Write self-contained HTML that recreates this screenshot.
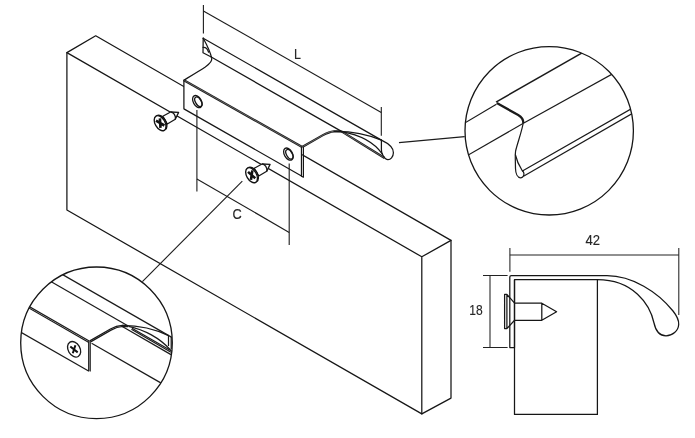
<!DOCTYPE html>
<html><head><meta charset="utf-8"><title>Handle drawing</title>
<style>
html,body{margin:0;padding:0;background:#fff;}
svg{display:block}
.tx{filter:grayscale(1)}
.o *{fill:none;stroke:#161616;stroke-width:1.25;stroke-linejoin:round;stroke-linecap:round}
.o .nf, .o .nf *{fill:#fff}
.n *{fill:none}
.t *{fill:none;stroke:#161616;stroke-width:2.2;stroke-linejoin:round;stroke-linecap:butt}
.tg *{fill:none;stroke:#fff;stroke-width:0.45;stroke-opacity:0.75}
.c, .c *{fill:none;stroke:#1a1a1a;stroke-width:1.22;stroke-linejoin:round}
.c .b{stroke-width:1.5}
.c .b2{stroke-width:2.3}
.o .cc{stroke-width:1.3}
.h *{fill:none;stroke:#161616;stroke-width:1.3}
.h ellipse:first-child{fill:#fff}
.sb{fill:#fff;stroke:#161616;stroke-width:1.3;stroke-linejoin:round}
.sh{fill:#fff;stroke:#111;stroke-width:1.35}
.sx{fill:none;stroke:#111;stroke-width:2.6}
.sx2{fill:none;stroke:#111;stroke-width:2.0}
.d *{stroke:#1c1c1c;stroke-width:1.1;fill:none}
.d2 *{stroke:#222;stroke-width:1.05;fill:none}
.tx{font-family:"Liberation Sans",sans-serif;font-size:15px;fill:#262626;stroke:#262626;stroke-width:0.15}
</style></head><body>
<svg width="695" height="438" viewBox="0 0 695 438">
<rect width="695" height="438" fill="#fff"/>
<g class="o">
<path d="M66.90,210.00 L66.90,52.60 L95.70,35.80 L451.00,240.40 L451.00,398.10 L421.80,413.90 Z"/>
<path d="M66.90,52.60 L421.80,256.80 L421.80,413.90 M421.80,256.80 L451.00,240.40"/>
</g>
<g class="o">
<path d="M183.90,80.20 C192,75.3 200,70.5 205.3,67 C209,64.4 212.3,61.5 211.7,58 L211.25,57.00 L203,52.8 L203.20,38.20 L381.40,140.10 C388,143.2 393.5,148 393.4,152.7 C393.3,157 390.5,159.8 387.7,159.6 C386.3,159.5 385.2,158.8 384.60,158.00 L341.50,131.40 C337,131 332,131.2 328.5,132.6 C326,133.6 324.5,134.3 322.5,135.4 L302.20,147.00 Z" class="nf" style="stroke:none"/>
<path class="nf" style="stroke:none" d="M183.90,80.20 L302.20,147.00 L302.20,176.40 L183.90,108.85 Z"/>
<path d="M183.90,80.20 L183.90,108.85 L301.5,176.0"/>
</g>
<g class="t">
<line x1="183.90" y1="80.20" x2="302.20" y2="147.00"/>
<path d="M302.20,147.00 L322.5,135.4 C326,133.4 329.5,131.6 334,131.3 L341.50,131.40"/>
<path d="M341.50,131.40 L384.60,158.00"/>
</g>
<g class="tg">
<line x1="183.90" y1="80.20" x2="302.20" y2="147.00"/>
<path d="M302.20,147.00 L322.5,135.4 C326,133.4 329.5,131.6 334,131.3 L341.50,131.40"/>
<path d="M341.50,131.40 L384.60,158.00"/>
</g>
<g class="o n">
<path d="M183.90,80.20 C192,75.3 200,70.5 205.3,67 C209,64.4 212.6,61.8 211.7,58.2 C210.6,53 207,45 203.20,38.20"/>
<path d="M203.20,38.20 L203,52.8 L211.25,57.00"/>
<path d="M203.1,47.3 C205.5,47 207.6,49 208.6,52.2"/>
<path style="stroke-width:1.2" d="M301.45,146.8 L301.45,176.2 L303.4,177.2 L303.4,147"/>
<line x1="203.20" y1="38.20" x2="381.40" y2="140.10"/>
<line x1="211.25" y1="57.00" x2="341.50" y2="131.40"/>
<path d="M381.40,140.10 C388,143.2 393.5,148 393.4,152.7 C393.3,157 390.5,159.8 387.7,159.6 C385.5,159.4 383.5,156.8 382.3,154 C381.6,152.3 381.4,151 381.4,149.5 L381.40,140.10"/>
<path d="M334,131.3 C350,131 368,134.5 381.40,140.10"/>
<path d="M341.5,131.6 C358,134.5 374,142 382.3,154"/>
</g>
<g class="h">
<ellipse cx="197.35" cy="101.6" rx="6.6" ry="4.0" transform="rotate(60 197.35 101.6)"/><ellipse cx="198.35" cy="101.8" rx="5.25" ry="2.8" transform="rotate(60 198.35 101.8)"/>
<ellipse cx="288.4" cy="154.1" rx="6.6" ry="4.0" transform="rotate(60 288.4 154.1)"/><ellipse cx="289.4" cy="154.29999999999998" rx="5.25" ry="2.8" transform="rotate(60 289.4 154.29999999999998)"/>
</g>
<g transform="translate(160.2 123.1)"><path class="sb" d="M2.6,-6.8 L10.4,-11.1 L18.4,-10.7 L15.1,-3.8 L7.1,0.9 Z"/><path class="sb" d="M10.4,-11.1 C13.5,-10.8 15.8,-7.5 15.1,-3.8"/><ellipse class="sh" cx="0.8" cy="-0.45" rx="8.2" ry="4.9" transform="rotate(60 0.8 -0.45)"/><ellipse class="sh" cx="-0.1" cy="0.1" rx="8.2" ry="4.9" transform="rotate(60 -0.1 0.1)"/><g transform="rotate(0)"><path class="sx" d="M-4.2,-2.4 L4.2,2.4 M-0.3,-4.8 L0.3,4.8"/></g></g>
<g transform="translate(251.65 175.1)"><path class="sb" d="M2.6,-6.8 L10.4,-11.1 L18.4,-10.7 L15.1,-3.8 L7.1,0.9 Z"/><path class="sb" d="M10.4,-11.1 C13.5,-10.8 15.8,-7.5 15.1,-3.8"/><ellipse class="sh" cx="0.8" cy="-0.45" rx="8.2" ry="4.9" transform="rotate(60 0.8 -0.45)"/><ellipse class="sh" cx="-0.1" cy="0.1" rx="8.2" ry="4.9" transform="rotate(60 -0.1 0.1)"/><g transform="rotate(12)"><path class="sx" d="M-4.2,-2.4 L4.2,2.4 M-0.3,-4.8 L0.3,4.8"/></g></g>
<g class="d">
<line x1="203.40" y1="5.00" x2="203.40" y2="33.50"/>
<line x1="381.30" y1="107.00" x2="381.30" y2="135.70"/>
<line x1="203.40" y1="10.90" x2="381.30" y2="112.40"/>
<line x1="196.90" y1="110.00" x2="196.90" y2="191.40"/>
<line x1="289.20" y1="163.50" x2="289.20" y2="244.90"/>
<line x1="196.90" y1="178.90" x2="289.20" y2="232.40"/>
<line x1="399.00" y1="142.60" x2="464.70" y2="136.60"/>
<line x1="242.30" y1="181.20" x2="142.40" y2="281.60"/>
</g>
<text transform="translate(293.9 59.0) scale(0.83 1)" class="tx" style="font-size:15px">L</text>
<text transform="translate(232.5 218.9) scale(0.85 1)" class="tx" style="font-size:15px">C</text>
<g class="o">
<circle cx="549.2" cy="130.8" r="84.2" class="cc"/>
</g>
<clipPath id="c1"><circle cx="549.2" cy="130.8" r="84.2"/></clipPath>
<g class="c" clip-path="url(#c1)">
<line x1="455.00" y1="128.80" x2="496.40" y2="104.20"/>
<line x1="496.00" y1="102.10" x2="590.00" y2="48.30" class="b"/>
<line x1="455.00" y1="162.60" x2="523.40" y2="123.30"/>
<line x1="523.40" y1="123.30" x2="640.00" y2="58.70"/>
<path class="b2" d="M496.8,103.1 L518.2,115 C521.4,116.8 523.3,119 523.4,123"/>
<path d="M523.4,122 C522.3,130 517.5,143 515.6,151 C515.2,153.5 515.3,156 515.3,159 L515.5,168.5 C515.6,173.5 517.5,177.6 520.6,177.8 C522.8,177.9 524.3,175.6 523.9,173.4 C523.7,172.3 523.2,171.5 522.4,170.8"/>
<path d="M515.3,154.5 C516.5,160 519.5,166.5 522.4,171 L642,102.6"/>
<path d="M523.5,176.3 L642,107.9"/>
</g>
<g class="o"><circle cx="96.5" cy="342.8" r="75.8" class="cc"/></g>
<clipPath id="c2"><circle cx="96.5" cy="342.8" r="75.8"/></clipPath>
<g class="c" clip-path="url(#c2)">
<line x1="9.60" y1="295.27" x2="89.60" y2="341.30"/>
<line x1="8.90" y1="296.47" x2="88.90" y2="342.50"/>
<line x1="9.00" y1="325.38" x2="89.00" y2="371.20"/>
<line x1="88.70" y1="341.30" x2="88.70" y2="371.00"/>
<line x1="90.20" y1="341.30" x2="90.20" y2="371.40"/>
<line x1="91.60" y1="343.30" x2="166.00" y2="385.90"/>
<path d="M89.8,340.9 L110.4,329 C114,327 118,325.6 122.4,325.4 L128.2,325.6"/>
<path d="M90.6,341.9 L111,330.1 C114.5,328.1 118.3,326.6 122.6,326.5 L128.2,326.6"/>
<line x1="49.20" y1="266.85" x2="169.20" y2="335.90"/>
<line x1="28.20" y1="268.46" x2="128.20" y2="326.00"/>
<line x1="132.00" y1="328.20" x2="172.00" y2="351.20"/>
<line x1="131.40" y1="329.30" x2="171.00" y2="352.20"/>
<line x1="121.00" y1="325.80" x2="171.00" y2="354.60"/>
<path d="M122.4,325.4 C138,325.4 156,329.5 169.2,335.9"/>
<path d="M128.5,326.3 C144,329.5 160,338 170.5,350"/>
<line x1="168.50" y1="335.70" x2="168.50" y2="346.00"/>
<line x1="171.20" y1="337.00" x2="171.20" y2="349.00"/>
<line x1="169.20" y1="335.90" x2="175.00" y2="339.20"/>
</g>
<g transform="translate(74.1 349.3)"><ellipse class="c" cx="0" cy="0" rx="8.3" ry="5.9" transform="rotate(60)" style="stroke-width:1.35"/><path class="sx2" d="M-3.8,-2.8 L3.6,3.1 M1.3,-4.1 L-1.3,4.0"/></g>
<g class="o">
<path d="M514.5,280 L514.5,414.4 L597.4,414.4 L597.4,280"/>
<path d="M509.8,347.6 L509.8,277.1 Q509.8,275.6 511.3,275.6 L607,275.6 C632,275.6 658,292 673,311 C677,316 679,320 678.7,324.5 C678.3,331 672.5,335.8 666,335.8 C659.5,335.8 655.5,330 654,323 C650,304 633,279.6 597.4,279.6 L514.5,279.6 L514.5,347.6 Z"/>
<path d="M504.6,294.4 L504.6,328.6 L506.9,328.6 L514.6,320.3 L541.8,320.3 L556.6,311.7 L541.8,303.2 L514.6,303.2 L506.9,294.4 Z M506.9,294.4 L506.9,328.6 M541.8,303.2 L541.8,320.3"/>
</g>
<g class="d2">
<line x1="509.90" y1="248.00" x2="509.90" y2="271.70"/>
<line x1="678.80" y1="248.00" x2="678.80" y2="315.00"/>
<line x1="509.90" y1="255.00" x2="678.80" y2="255.00"/>
<line x1="483.00" y1="275.50" x2="507.60" y2="275.50"/>
<line x1="483.00" y1="347.50" x2="507.60" y2="347.50"/>
<line x1="490.00" y1="275.50" x2="490.00" y2="347.50"/>
</g>
<text transform="translate(585.4 245.0) scale(0.89 1)" class="tx" style="font-size:14.7px">42</text>
<text transform="translate(469.3 314.9) scale(0.82 1)" class="tx" style="font-size:14.7px">18</text>
</svg>
</body></html>
